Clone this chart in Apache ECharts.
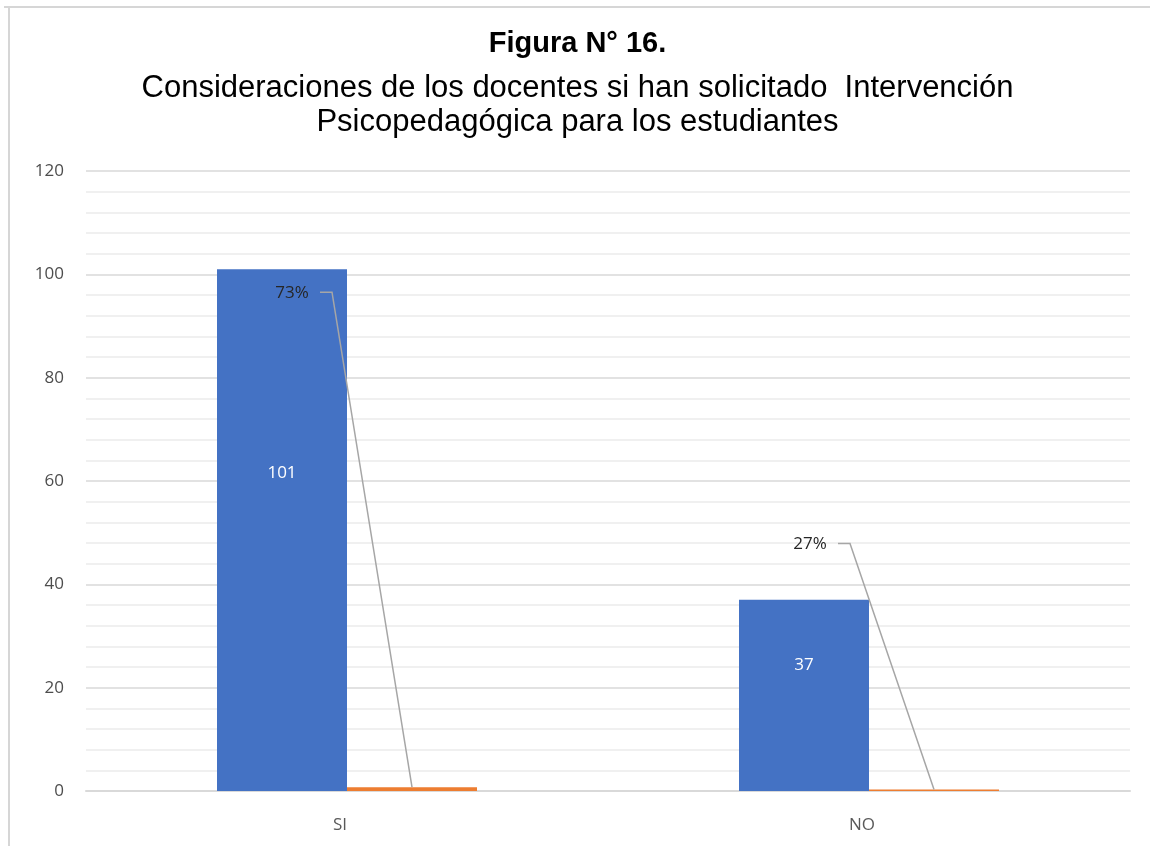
<!DOCTYPE html>
<html>
<head>
<meta charset="utf-8">
<script src="https://cdn.jsdelivr.net/npm/echarts@6/dist/echarts.min.js"></script>
<style>
  html, body { margin: 0; padding: 0; background: #fff; }
  #chart { width: 1155px; height: 846px; }
</style>
</head>
<body>
<div id="chart"></div>
<script>
const categories = ['SI', 'NO'];
const cantidad = [101, 37];
const porcentaje = [0.73, 0.27];
const yTicks = [0, 20, 40, 60, 80, 100, 120];

// styling only: where the count labels sit in the blue bars,
// and how far the % labels are moved away from the orange bars
const countLabelPos = ['39%', '34%'];
const pctLabelShift = [[-120, -494], [-124, -245]];

const chart = echarts.init(document.getElementById('chart'));

const countData = cantidad.map((v, i) => ({
    value: v,
    label: { position: ['50%', countLabelPos[i]] }
}));

chart.setOption({
    animation: false,
    backgroundColor: '#fff',
    title: {
        text: 'Figura N° 16.',
        subtext: 'Consideraciones de los docentes si han solicitado  Intervención\nPsicopedagógica para los estudiantes',
        left: 'center',
        top: 24,
        itemGap: 13,
        textStyle: { fontFamily: 'Liberation Sans', fontSize: 29, fontWeight: 'bold', color: '#000' },
        subtextStyle: { fontFamily: 'Liberation Sans', fontSize: 31, color: '#000', lineHeight: 34, align: 'center' }
    },
    graphic: [
        { type: 'line', shape: { x1: 4, y1: 7, x2: 1150, y2: 7 }, style: { stroke: '#d6d6d6', lineWidth: 2 }, silent: true },
        { type: 'line', shape: { x1: 9, y1: 7, x2: 9, y2: 846 }, style: { stroke: '#d6d6d6', lineWidth: 2 }, silent: true }
    ],
    grid: { left: 86, right: 25, top: 171, bottom: 55 },
    xAxis: {
        type: 'category',
        data: categories,
        axisTick: { show: false },
        axisLine: { lineStyle: { color: '#d9d9d9', width: 2 } },
        axisLabel: { color: '#595959', fontSize: 17, fontFamily: 'Open Sans', margin: 26, padding: [0, 14, 0, 0] }
    },
    yAxis: {
        type: 'value',
        min: yTicks[0],
        max: yTicks[yTicks.length - 1],
        interval: 20,
        axisLine: { show: false },
        axisTick: { show: false },
        axisLabel: { color: '#4d4d4d', fontSize: 17, fontFamily: 'Open Sans', margin: 22 },
        splitLine: { lineStyle: { color: '#d9d9d9', width: 1.5 } },
        minorTick: { show: false, splitNumber: 5 },
        minorSplitLine: { show: true, lineStyle: { color: '#ececec', width: 1.5 } }
    },
    series: [
        {
            name: 'Cantidad',
            type: 'bar',
            data: countData,
            barWidth: 130,
            barGap: '0%',
            itemStyle: { color: '#4472C4' },
            label: {
                show: true,
                align: 'center',
                verticalAlign: 'middle',
                color: '#fff',
                fontSize: 17,
                fontFamily: 'Open Sans'
            }
        },
        {
            name: 'Porcentaje',
            type: 'bar',
            data: porcentaje,
            barWidth: 130,
            barGap: '0%',
            itemStyle: { color: '#ED7D31' }
        },
        {
            // % labels with their leader lines, tied to the orange bars
            name: 'Etiquetas',
            type: 'custom',
            z: 5,
            data: porcentaje.map((v, i) => [i, v]),
            renderItem: (params, api) => {
                const i = api.value(0);
                const top = api.coord([i, api.value(1)]);
                const barX = top[0] + 130 / 2;
                const s = pctLabelShift[params.dataIndex];
                const lx = barX + s[0];
                const ly = top[1] + s[1];
                return {
                    type: 'group',
                    children: [
                        {
                            type: 'polyline',
                            shape: { points: [[lx + 28, ly - 1], [lx + 40, ly - 1], [barX, top[1]]] },
                            style: { stroke: '#a6a6a6', lineWidth: 1.5, fill: 'none' }
                        },
                        {
                            type: 'text',
                            style: {
                                x: lx, y: ly,
                                text: Math.round(api.value(1) * 100) + '%',
                                align: 'center',
                                verticalAlign: 'middle',
                                fill: '#262626',
                                fontSize: 17,
                                fontFamily: 'Open Sans'
                            }
                        }
                    ]
                };
            }
        }
    ]
});
</script>
</body>
</html>
